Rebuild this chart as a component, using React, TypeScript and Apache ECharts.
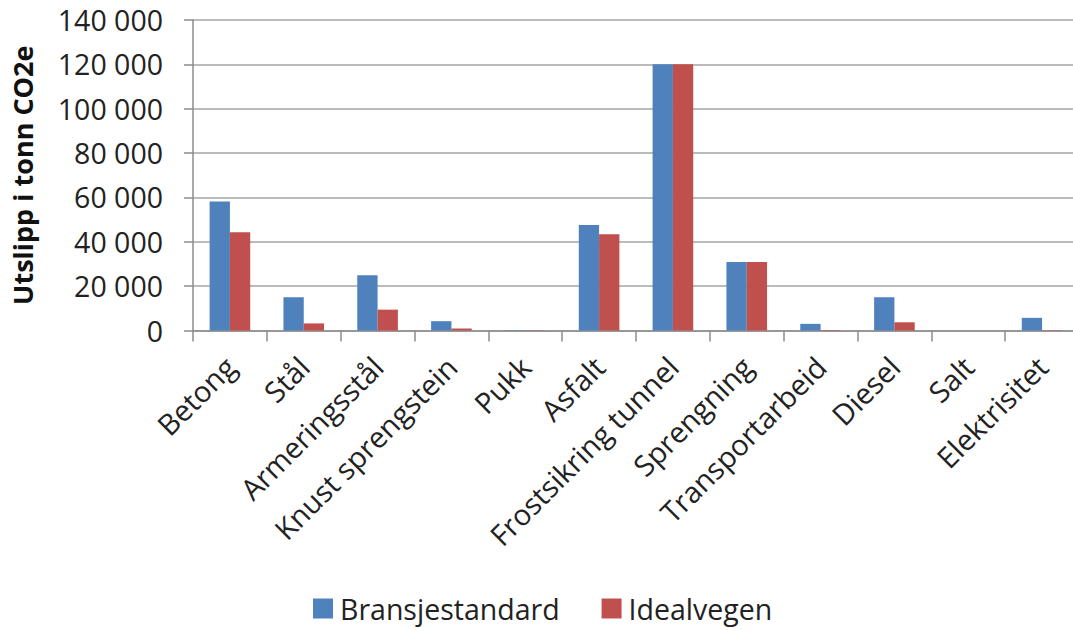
import React, { useEffect, useRef } from "react";
import * as echarts from "echarts";

const categories = [
  "Betong",
  "Stål",
  "Armeringsstål",
  "Knust sprengstein",
  "Pukk",
  "Asfalt",
  "Frostsikring tunnel",
  "Sprengning",
  "Transportarbeid",
  "Diesel",
  "Salt",
  "Elektrisitet",
];
const bransjestandard = [58200, 15000, 24900, 4200, 150, 47600, 120000, 30900, 3000, 15000, 0, 5700];
const idealvegen = [44300, 3200, 9400, 900, 100, 43400, 120000, 30900, 200, 3700, 0, 150];
const seriesNames = ["Bransjestandard", "Idealvegen"];
const yMin = 0;
const yMax = 140000;
const yStep = 20000;
const yTitle = "Utslipp i tonn CO2e";

const FONT = "Open Sans";

function fmt(v: number): string {
  return String(v).replace(/\B(?=(\d{3})+(?!\d))/g, " ");
}

export default function App() {
  const ref = useRef<HTMLDivElement>(null);
  useEffect(() => {
    if (!ref.current) return;
    const chart = echarts.init(ref.current, undefined, { renderer: "svg" });
    chart.setOption({
      animation: false,
      backgroundColor: "#ffffff",
      textStyle: { fontFamily: FONT },
      grid: { left: 193, top: 20, width: 886, height: 310.5 },
      legend: {
        data: seriesNames,
        left: 313,
        top: 594,
        padding: 0,
        icon: "rect",
        itemWidth: 20,
        itemHeight: 20,
        itemGap: 42,
        textStyle: { fontFamily: FONT, fontSize: 28.5, color: "#222", padding: [0, 0, 0, 2] },
      },
      xAxis: {
        type: "category",
        data: categories,
        axisLine: { lineStyle: { color: "#8c8c8c", width: 1.5 } },
        axisTick: { show: true, length: 11, alignWithLabel: false, lineStyle: { color: "#8c8c8c", width: 1.5 } },
        axisLabel: {
          rotate: 45,
          interval: 0,
          margin: 31,
          fontFamily: FONT,
          fontSize: 29,
          color: "#222",
        },
      },
      yAxis: {
        type: "value",
        min: yMin,
        max: yMax,
        interval: yStep,
        name: yTitle,
        nameLocation: "middle",
        nameGap: 157,
        nameTextStyle: { fontFamily: FONT, fontSize: 27, fontWeight: "bold", color: "#111" },
        axisLine: { show: true, lineStyle: { color: "#8c8c8c", width: 1.5 } },
        axisTick: { show: true, length: 9, lineStyle: { color: "#8c8c8c", width: 1.5 } },
        axisLabel: {
          margin: 30,
          fontFamily: FONT,
          fontSize: 28.5,
          color: "#222",
          formatter: (v: number) => fmt(v),
        },
        splitLine: { show: true, lineStyle: { color: "#a6a6a6", width: 1.5 } },
      },
      series: [
        {
          name: seriesNames[0],
          type: "bar",
          data: bransjestandard,
          itemStyle: { color: "#4f81bd" },
          barGap: "0%",
          barCategoryGap: "45%",
        },
        {
          name: seriesNames[1],
          type: "bar",
          data: idealvegen,
          itemStyle: { color: "#c0504d" },
          barGap: "0%",
          barCategoryGap: "45%",
        },
      ],
    });
    return () => chart.dispose();
  }, []);
  return (
    <div style={{ position: "absolute", left: 0, top: 0, width: 1073, height: 630, overflow: "hidden" }}>
      <div ref={ref} style={{ width: 1100, height: 630 }} />
    </div>
  );
}
